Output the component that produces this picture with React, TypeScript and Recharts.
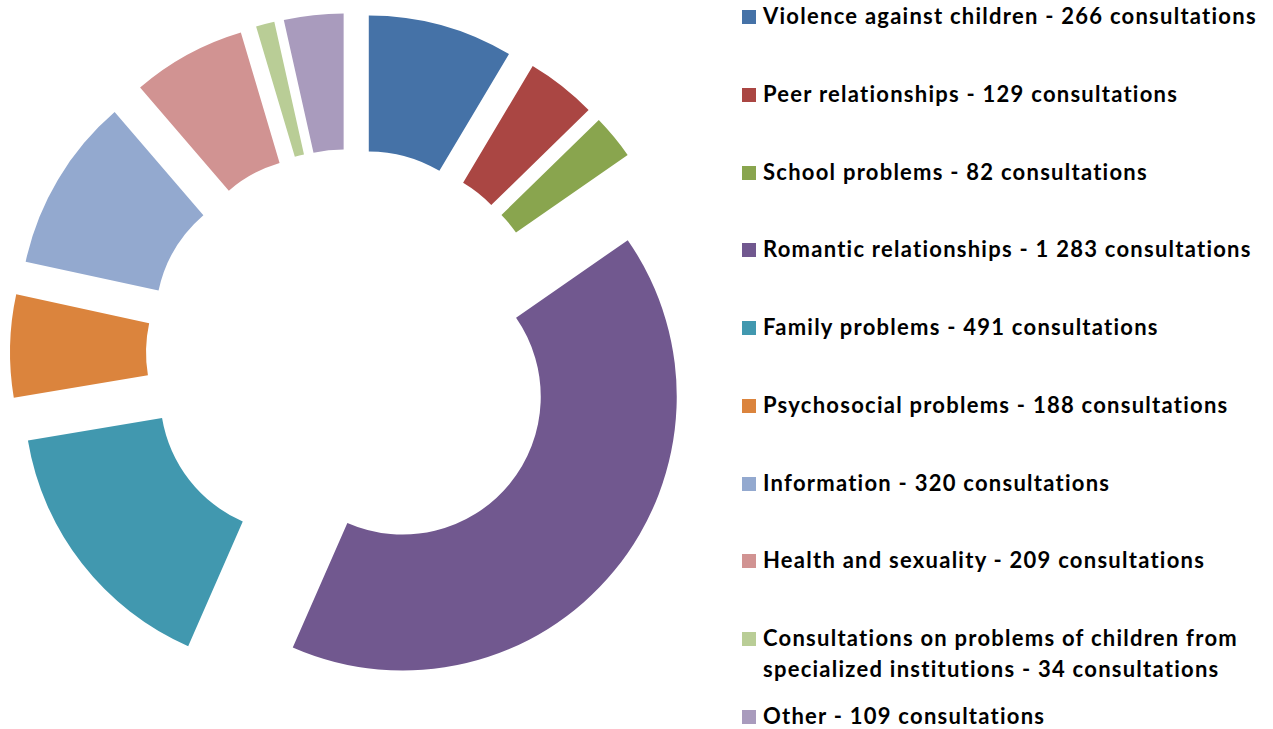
import React from 'react';
import { PieChart, Pie, Cell, Sector, Legend } from 'recharts';

const categories = [
  'Violence against children',
  'Peer relationships',
  'School problems',
  'Romantic relationships',
  'Family problems',
  'Psychosocial problems',
  'Information',
  'Health and sexuality',
  'Consultations on problems of children from specialized institutions',
  'Other',
];
const consultations = [266, 129, 82, 1283, 491, 188, 320, 209, 34, 109];
const colors = [
  '#4572A7', '#AA4643', '#89A54E', '#71588F', '#4198AF',
  '#DB843D', '#93A9CF', '#D19392', '#B9CD96', '#A99BBD',
];

const data = categories.map((name, i) => ({ name, value: consultations[i] }));

const EXPLODE = 67;
const RAD = Math.PI / 180;

const ExplodedSector = (props: any) => {
  const { cx, cy, midAngle, innerRadius, outerRadius, startAngle, endAngle, fill } = props;
  const dx = EXPLODE * Math.cos(midAngle * RAD);
  const dy = -EXPLODE * Math.sin(midAngle * RAD);
  return (
    <Sector
      cx={cx + dx}
      cy={cy + dy}
      innerRadius={innerRadius}
      outerRadius={outerRadius}
      startAngle={startAngle}
      endAngle={endAngle}
      fill={fill}
      stroke="none"
    />
  );
};

const fmt = (v: number) => String(v).replace(/\B(?=(\d{3})+(?!\d))/g, ' ');

const LegendContent = () => (
  <div style={{ position: 'relative', width: 531, height: 729 }}>
    {categories.map((name, i) => (
      <div
        key={name}
        style={{
          position: 'absolute',
          left: 0,
          top: 0.2 + 77.75 * i,
          width: 531,
          display: 'flex',
          alignItems: 'flex-start',
        }}
      >
        <div
          style={{
            width: 14,
            height: 14,
            marginTop: 10,
            background: colors[i],
            flex: '0 0 14px',
          }}
        />
        <div
          style={{
            marginLeft: 7,
            width: 508,
            fontFamily: 'Lato, sans-serif',
            fontWeight: 700,
            fontSize: 22,
            letterSpacing: 1.25,
            lineHeight: '31px',
            color: '#000',
          }}
        >
          {`${name} - ${fmt(consultations[i])} consultations`}
        </div>
      </div>
    ))}
  </div>
);

export default function App() {
  return (
    <div style={{ position: 'absolute', left: 0, top: 0, width: 1273, height: 729, background: '#fff' }}>
      <PieChart width={1273} height={729} margin={{ top: 0, right: 0, bottom: 0, left: 0 }}>
        <Pie
          data={data}
          dataKey="value"
          nameKey="name"
          cx={351}
          cy={354}
          innerRadius={138}
          outerRadius={274}
          startAngle={90}
          endAngle={-270}
          stroke="none"
          isAnimationActive={false}
          shape={ExplodedSector}
          activeShape={ExplodedSector}
          inactiveShape={ExplodedSector}
        >
          {data.map((d, i) => (
            <Cell key={d.name} fill={colors[i]} />
          ))}
        </Pie>
        <Legend
          layout="vertical"
          align="right"
          verticalAlign="top"
          content={<LegendContent />}
          wrapperStyle={{ left: 742, top: 0, width: 531, height: 729 }}
        />
      </PieChart>
    </div>
  );
}
